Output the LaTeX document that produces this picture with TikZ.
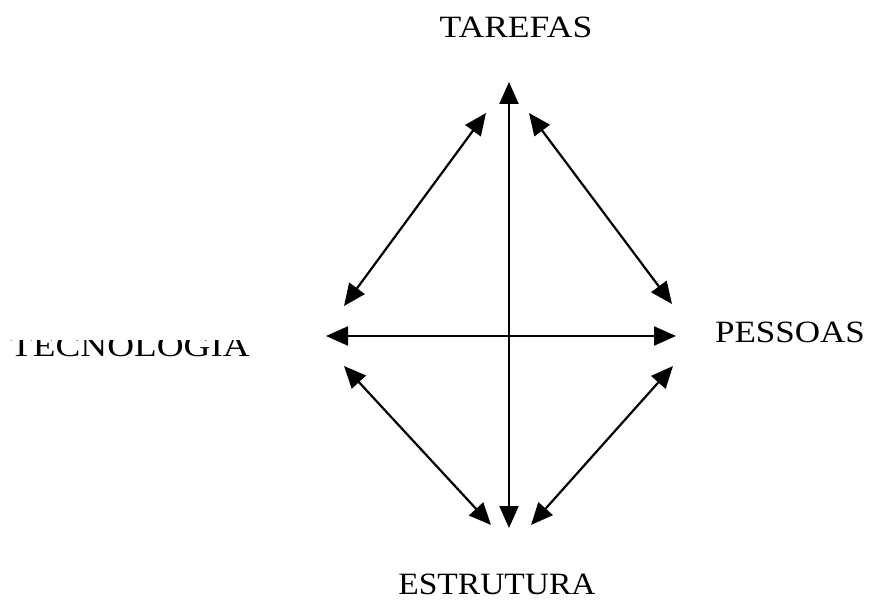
\documentclass[tikz,border=0pt]{standalone}
\usepackage{fontspec}
\setmainfont{Liberation Serif}
\usetikzlibrary{arrows.meta}
\tikzset{
  lbl/.style={font=\fontsize{31}{31}\selectfont, inner sep=0pt, anchor=base},
  rel/.style={>={Triangle[length=22pt,width=19pt]}, <->, line width=2.2pt}
}
\begin{document}
\begin{tikzpicture}[x=1pt,y=-1pt]
\useasboundingbox (0,0) rectangle (870,601);
\node[lbl] (tarefas) at (516,38) {\scalebox{1.147}[1]{TAREFAS}};
\node[lbl] (pessoas) at (790,343) {\scalebox{1.13}[1]{PESSOAS}};
\node[lbl] (estrutura) at (497,594) {\scalebox{1.08}[1]{ESTRUTURA}};
\begin{scope}
\clip (0,341) rectangle (300,370);
\node[lbl] (tecnologia) at (130,357) {\scalebox{1.2}[1]{TECNOLOGIA}};
\end{scope}
\coordinate (vt) at (509,82);
\coordinate (vb) at (509,528);
\coordinate (hl) at (326,336);
\coordinate (hr) at (676,336);
\coordinate (tl1) at (486,113);
\coordinate (tl2) at (344,306);
\coordinate (tr1) at (529,113);
\coordinate (tr2) at (672,304);
\coordinate (bl1) at (344,366);
\coordinate (bl2) at (491,525);
\coordinate (br1) at (673,366);
\coordinate (br2) at (531,525);
\draw[rel] (vt) -- (vb);
\draw[rel] (hl) -- (hr);
\draw[rel] (tl1) -- (tl2);
\draw[rel] (tr1) -- (tr2);
\draw[rel] (bl1) -- (bl2);
\draw[rel] (br1) -- (br2);
\end{tikzpicture}
\end{document}
